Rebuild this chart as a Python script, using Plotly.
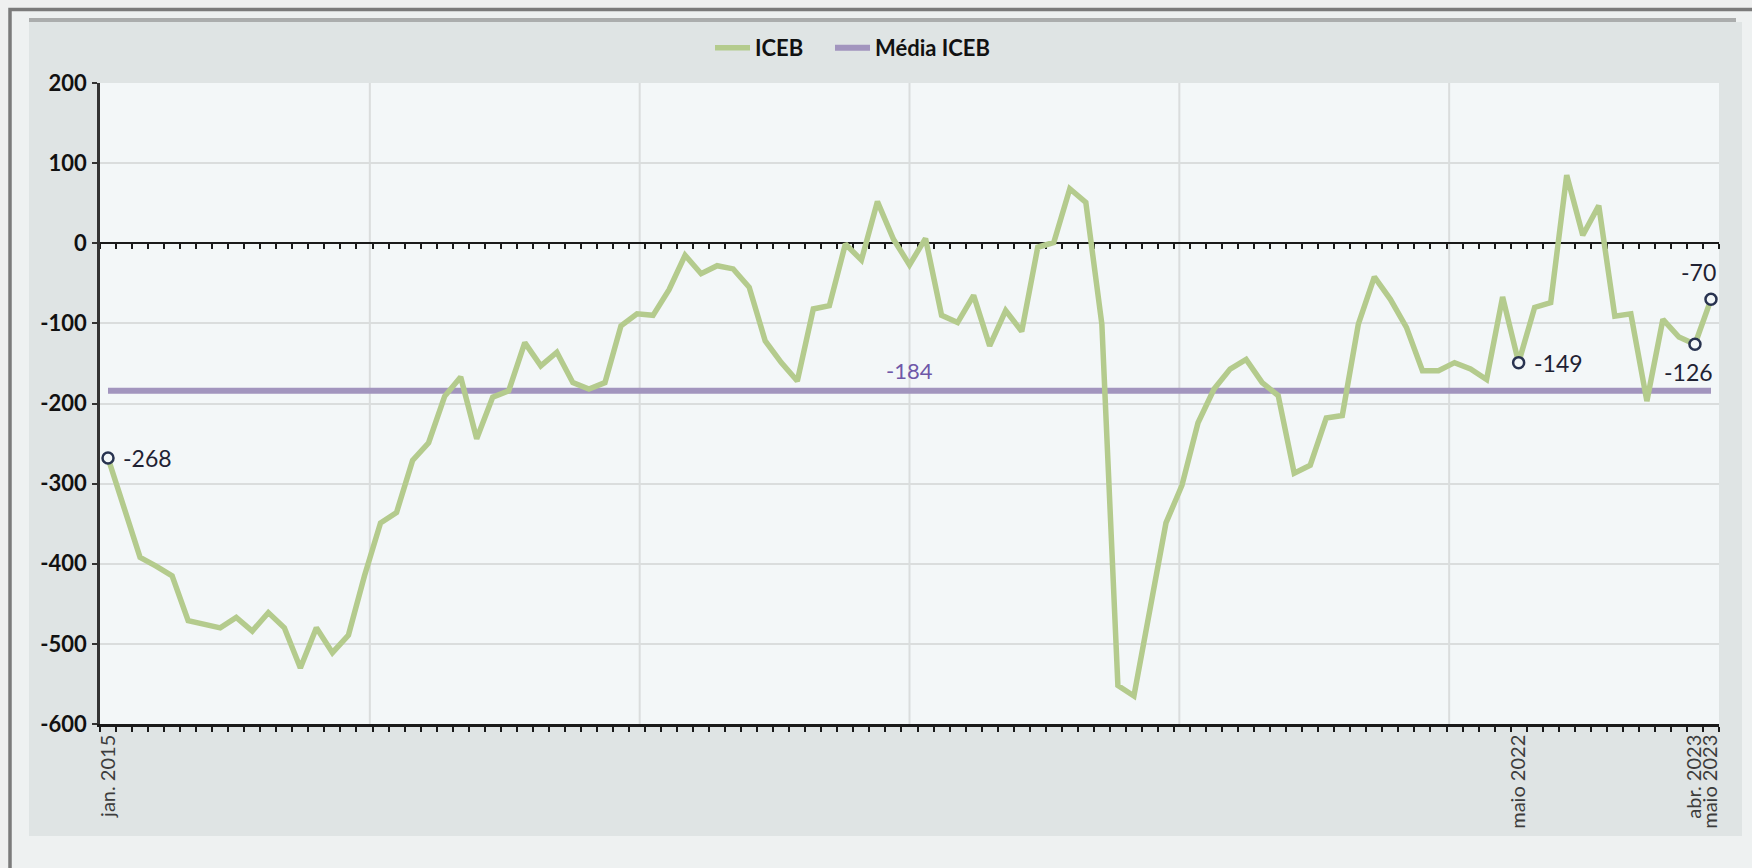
import plotly.graph_objects as go

# Monthly ICEB index, jan. 2015 .. maio 2023
MONTH_ABBR = ["jan.", "fev.", "mar.", "abr.", "maio", "jun.",
              "jul.", "ago.", "set.", "out.", "nov.", "dez."]
months = [f"{MONTH_ABBR[m]} {y}" for y in range(2015, 2024) for m in range(12)]
months = months[:months.index("maio 2023") + 1]

iceb = [
    -268, -330, -392, -403, -415, -471, -476, -480, -467, -484,
    -461, -480, -530, -480, -511, -489, -415, -349, -336, -271,
    -249, -191, -167, -244, -192, -184, -124, -153, -136, -174,
    -182, -174, -103, -88, -90, -58, -15, -38, -28, -32,
    -55, -122, -149, -172, -82, -78, -1, -21, 52, 5,
    -27, 6, -90, -99, -65, -128, -84, -110, -5, 1,
    68, 51, -101, -552, -565, -458, -349, -302, -224, -182,
    -157, -145, -174, -190, -287, -277, -218, -215, -101, -42,
    -70, -105, -159, -159, -149, -157, -170, -67, -149, -80,
    -74, 85, 10, 47, -91, -88, -197, -95, -117, -126,
    -70,
]
media_iceb = -184

# months shown on the category axis (and highlighted on the line)
labeled_months = ["jan. 2015", "maio 2022", "abr. 2023", "maio 2023"]
y_ticks = [200, 100, 0, -100, -200, -300, -400, -500, -600]
y_range = [-600, 200]

# figure geometry (pixels)
W, H = 1752, 868
L, R, T, B = 100, 33, 83, 144
PW, PH = W - L - R, H - T - B


def px_x(p):
    return (p - L) / PW


def px_y(p):
    return (H - B - p) / PH


FONT = "Lato"
GREEN = "#B4CB8D"
PURPLE = "#A295BE"
INK = "#1F2233"
PLOT_BG = "#F3F7F8"

x = list(range(len(months)))
tick_idx = [months.index(m) for m in labeled_months]

fig = go.Figure()

# average line
fig.add_trace(go.Scatter(
    x=[x[0], x[-1]], y=[media_iceb, media_iceb], mode="lines",
    name="Média ICEB", legend="legend2",
    line=dict(color=PURPLE, width=6), hoverinfo="skip",
))

# ICEB series
fig.add_trace(go.Scatter(
    x=x, y=iceb, mode="lines", name="ICEB", legend="legend",
    line=dict(color=GREEN, width=5.5),
    customdata=months, hovertemplate="%{customdata}: %{y}<extra></extra>",
))

# helper trace that carries the zero-line axis
fig.add_trace(go.Scatter(
    x=[x[0], x[-1]], y=[0, 0], xaxis="x2", mode="lines",
    line=dict(width=0), showlegend=False, hoverinfo="skip",
))

# highlighted months
fig.add_trace(go.Scatter(
    x=tick_idx, y=[iceb[i] for i in tick_idx], mode="markers",
    marker=dict(symbol="circle", size=11, color=PLOT_BG,
                line=dict(color="#283350", width=2.5)),
    showlegend=False, hoverinfo="skip",
))

# value labels next to the highlighted points
label_offsets = {
    "jan. 2015": dict(xanchor="left", yanchor="middle", xshift=13, yshift=0),
    "maio 2022": dict(xanchor="left", yanchor="middle", xshift=13, yshift=0),
    "abr. 2023": dict(xanchor="center", yanchor="top", xshift=-6, yshift=-12),
    "maio 2023": dict(xanchor="center", yanchor="bottom", xshift=-12, yshift=11),
}
for m in labeled_months:
    i = months.index(m)
    fig.add_annotation(
        x=i, y=iceb[i], text=str(iceb[i]), showarrow=False,
        font=dict(family=FONT, size=23, color=INK), **label_offsets[m],
    )

# average label
fig.add_annotation(
    x=x[len(x) // 2], y=media_iceb, text=str(media_iceb), showarrow=False,
    xanchor="center", yanchor="bottom", yshift=5,
    font=dict(family=FONT, size=22, color="#6F58A8"),
)

shapes = [
    # outer frame
    dict(type="rect", xref="paper", yref="paper", layer="below",
         x0=px_x(10), x1=px_x(1780), y0=px_y(9.5), y1=px_y(900),
         fillcolor="#EEF1F1", line=dict(color="#7B7B7B", width=3.5)),
    # chart panel
    dict(type="rect", xref="paper", yref="paper", layer="below",
         x0=px_x(29), x1=px_x(1742), y0=px_y(22), y1=px_y(836),
         fillcolor="#DFE4E4", line=dict(width=0)),
    # shaded bar on top of the panel
    dict(type="rect", xref="paper", yref="paper", layer="below",
         x0=px_x(29), x1=px_x(1736), y0=px_y(18), y1=px_y(22),
         fillcolor="#ABADAD", line=dict(width=0)),
    # plotting area
    dict(type="rect", xref="paper", yref="paper", layer="below",
         x0=0, x1=1, y0=0, y1=1, fillcolor=PLOT_BG, line=dict(width=0)),
]
# vertical gridlines dividing the plot into six bands
for k in range(1, 6):
    shapes.append(dict(type="line", xref="x domain", yref="y domain",
                       layer="below", x0=k / 6, x1=k / 6, y0=0, y1=1,
                       line=dict(color="#DADDDD", width=2)))

minor_ticks = dict(ticks="outside", tick0=-0.5, dtick=1, ticklen=5,
                   tickwidth=1.5, tickcolor="#1A1A1A", showgrid=False)
x_range = [-0.5, len(months) - 0.5]

legend_style = dict(
    orientation="h", xanchor="left", yanchor="middle", y=px_y(48),
    bgcolor="rgba(0,0,0,0)", itemwidth=35,
    font=dict(family=FONT, size=22, color="#111111", weight="bold"),
)

fig.update_layout(
    width=W, height=H,
    margin=dict(l=L, r=R, t=T, b=B, pad=0),
    paper_bgcolor="#EFF0F0",
    plot_bgcolor=PLOT_BG,
    shapes=shapes,
    showlegend=True,
    legend=dict(x=px_x(710), **legend_style),
    legend2=dict(x=px_x(830), **legend_style),
    xaxis=dict(
        range=x_range, tickvals=tick_idx, ticktext=labeled_months,
        tickangle=-90, ticks="",
        tickfont=dict(family=FONT, size=20, color="#3C3C3C"),
        showgrid=False, zeroline=False,
        showline=True, linecolor="#1A1A1A", linewidth=2.5,
        minor=minor_ticks,
    ),
    xaxis2=dict(
        overlaying="x", matches="x", anchor="free",
        position=(0 - y_range[0]) / (y_range[1] - y_range[0]),
        side="bottom", range=x_range,
        showline=True, linecolor="#1A1A1A", linewidth=2,
        showticklabels=False, ticks="", showgrid=False, zeroline=False,
        minor=minor_ticks, layer="below traces",
    ),
    yaxis=dict(
        range=y_range, tickvals=y_ticks, ticktext=[str(v) for v in y_ticks],
        ticks="outside", ticklen=5, tickwidth=1.5, tickcolor="#333333",
        tickfont=dict(family=FONT, size=22, color="#111111", weight="bold"),
        ticklabelstandoff=1,
        showline=True, linecolor="#333333", linewidth=2.5,
        gridcolor="#DADDDD", gridwidth=2, zeroline=False,
    ),
)

fig.write_html("out.html")
